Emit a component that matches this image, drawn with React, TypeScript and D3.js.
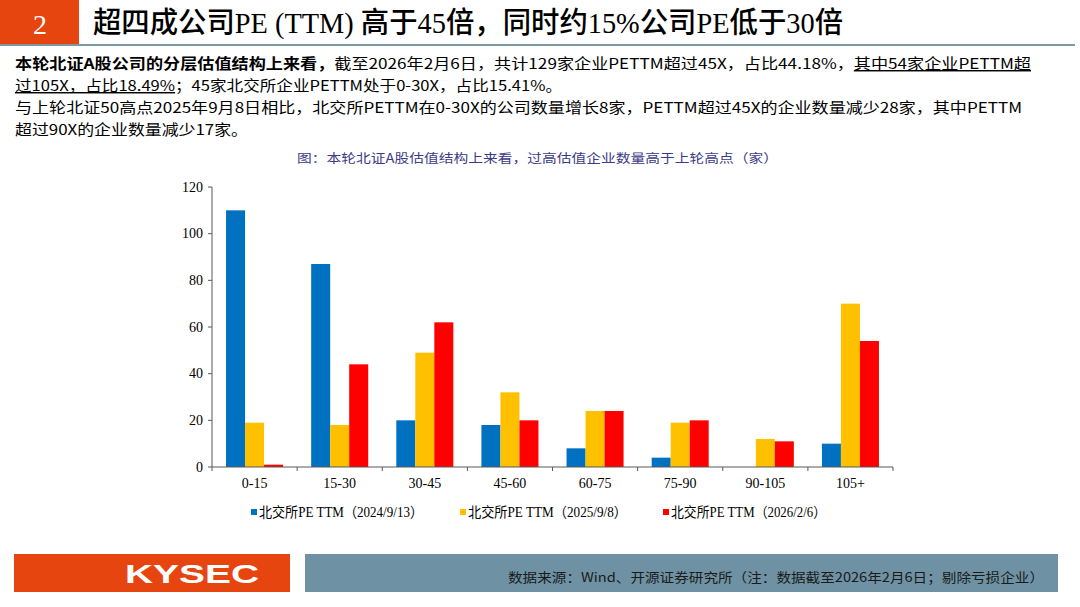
import { useEffect } from 'react';
import * as d3 from 'd3';

// PE(TTM) buckets and company counts per snapshot date
const categories = ['0-15', '15-30', '30-45', '45-60', '60-75', '75-90', '90-105', '105+'];
const seriesNames = [
  '北交所PE TTM（2024/9/13）',
  '北交所PE TTM（2025/9/8）',
  '北交所PE TTM（2026/2/6）',
];
const pe20240913 = [110, 87, 20, 18, 8, 4, 0, 10];
const pe20250908 = [19, 18, 49, 32, 24, 19, 12, 70];
const pe20260206 = [1, 44, 62, 20, 24, 20, 11, 54];
const yTicks = [0, 20, 40, 60, 80, 100, 120];

const COLORS = ['#0070c0', '#ffc000', '#ff0000'];
const ORANGE = '#e6450f';
const SLATE = '#6e92a3';

const SERIF = '"Liberation Serif", "Noto Sans CJK SC", serif';
const CJK = '"Noto Sans CJK SC", "Liberation Serif", sans-serif';

const titleText = '超四成公司PE (TTM) 高于45倍，同时约15%公司PE低于30倍';
const chartTitle = '图：本轮北证A股估值结构上来看，过高估值企业数量高于上轮高点（家）';
const sourceText = '数据来源：Wind、开源证券研究所（注：数据截至2026年2月6日；剔除亏损企业）';

type Seg = { t: string; b?: boolean; u?: boolean };
const bodyLines: Seg[][] = [
  [
    { t: '本轮北证A股公司的分层估值结构上来看，', b: true },
    { t: '截至2026年2月6日，共计129家企业PETTM超过45X，占比44.18%，' },
    { t: '其中54家企业PETTM超', u: true },
  ],
  [
    { t: '过105X，占比18.49%', u: true },
    { t: '；45家北交所企业PETTM处于0-30X，占比15.41%。' },
  ],
  [{ t: '与上轮北证50高点2025年9月8日相比，北交所PETTM在0-30X的公司数量增长8家，PETTM超过45X的企业数量减少28家，其中PETTM' }],
  [{ t: '超过90X的企业数量减少17家。' }],
];
const bodyLineEnds = [1031, 562, 1022, 248];

export default function App() {
  useEffect(() => {
    document.body.style.margin = '0';
  }, []);

  const values = [pe20240913, pe20250908, pe20260206];
  const margin = { left: 212, right: 893, top: 187, bottom: 467 };

  const x0 = d3.scaleBand<string>()
    .domain(categories)
    .range([margin.left, margin.right])
    .padding(0);
  const bw = x0.bandwidth();
  const x1 = d3.scaleBand<number>()
    .domain([0, 1, 2])
    .range([bw * 0.165, bw * 0.835])
    .padding(0);
  const y = d3.scaleLinear().domain([0, 120]).range([margin.bottom, margin.top]);

  const axisColor = '#595959';
  const legendX = [251, 460, 663];
  const legendLen = [164, 159, 155];

  return (
    <div style={{ position: 'absolute', left: 0, top: 0 }}>
      <svg width={1080} height={607} style={{ display: 'block', background: '#fff' }}>
        {/* header */}
        <rect x={0} y={0} width={79} height={44} fill={ORANGE} />
        <text x={40} y={24} textAnchor="middle" dominantBaseline="central"
          fontFamily={SERIF} fontSize={28} fill="#fff">2</text>
        <line x1={0} x2={1075} y1={45} y2={45} stroke="#7d97a4" strokeWidth={2} />
        <text x={93} y={23} dominantBaseline="central" fontFamily={SERIF} fontSize={29}
          fontWeight={500} fill="#000" textLength={750} lengthAdjust="spacingAndGlyphs">
          {titleText}
        </text>

        {/* body text */}
        {bodyLines.map((segs, i) => (
          <text key={i} x={15} y={62 + i * 22} dominantBaseline="central" fontFamily={CJK}
            fontSize={14.5} fill="#000" textLength={bodyLineEnds[i] - 15} lengthAdjust="spacingAndGlyphs">
            {segs.map((s, j) => (
              <tspan key={j} fontWeight={s.b ? 'bold' : 'normal'}
                textDecoration={s.u ? 'underline' : undefined}>{s.t}</tspan>
            ))}
          </text>
        ))}

        {/* chart title */}
        <text x={297} y={157} dominantBaseline="central" fontFamily={CJK} fontSize={12.5}
          fill="#3c3c86" textLength={481} lengthAdjust="spacingAndGlyphs">{chartTitle}</text>

        {/* bars */}
        {values.map((vals, si) => (
          <g key={si}>
            {vals.map((v, ci) => (
              <rect key={ci}
                x={x0(categories[ci])! + x1(si)!}
                y={y(v)}
                width={x1.bandwidth()}
                height={y(0) - y(v)}
                fill={COLORS[si]} />
            ))}
          </g>
        ))}

        {/* y axis */}
        <line x1={margin.left} x2={margin.left} y1={margin.top} y2={margin.bottom} stroke={axisColor} />
        {yTicks.map(t => (
          <g key={t}>
            <line x1={margin.left - 4} x2={margin.left} y1={y(t)} y2={y(t)} stroke={axisColor} />
            <text x={margin.left - 9} y={y(t)} textAnchor="end" dominantBaseline="central"
              fontFamily={SERIF} fontSize={14} fill="#000">{t}</text>
          </g>
        ))}

        {/* x axis */}
        <line x1={margin.left} x2={margin.right} y1={margin.bottom} y2={margin.bottom} stroke={axisColor} />
        {categories.map((c, i) => (
          <g key={c}>
            <line x1={x0(c)! + bw} x2={x0(c)! + bw} y1={margin.bottom} y2={margin.bottom + 4}
              stroke={axisColor} />
            {i === 0 && (
              <line x1={x0(c)!} x2={x0(c)!} y1={margin.bottom} y2={margin.bottom + 4} stroke={axisColor} />
            )}
            <text x={x0(c)! + bw / 2} y={margin.bottom + 16} textAnchor="middle" dominantBaseline="central"
              fontFamily={SERIF} fontSize={14} fill="#000">{c}</text>
          </g>
        ))}

        {/* legend */}
        {seriesNames.map((n, i) => (
          <g key={n} transform={`translate(${legendX[i]},512)`}>
            <rect x={0} y={-3} width={6} height={6} fill={COLORS[i]} />
            <text x={8} y={0} dominantBaseline="central" fontFamily={SERIF} fontSize={14} fill="#000"
              textLength={legendLen[i]} lengthAdjust="spacingAndGlyphs">{n}</text>
          </g>
        ))}

        {/* footer */}
        <rect x={14} y={554} width={276} height={38} fill={ORANGE} />
        <text x={125} y={574} dominantBaseline="central" fontFamily='"Liberation Sans", Arial, sans-serif'
          fontWeight="bold" fontSize={25} fill="#fff" textLength={134} lengthAdjust="spacingAndGlyphs">KYSEC</text>
        <rect x={305} y={554} width={753} height={38} fill={SLATE} />
        <text x={1044} y={576} textAnchor="end" dominantBaseline="central" fontFamily={CJK}
          fontSize={13} fill="#1a1a1a" textLength={536} lengthAdjust="spacingAndGlyphs">{sourceText}</text>
      </svg>
    </div>
  );
}
